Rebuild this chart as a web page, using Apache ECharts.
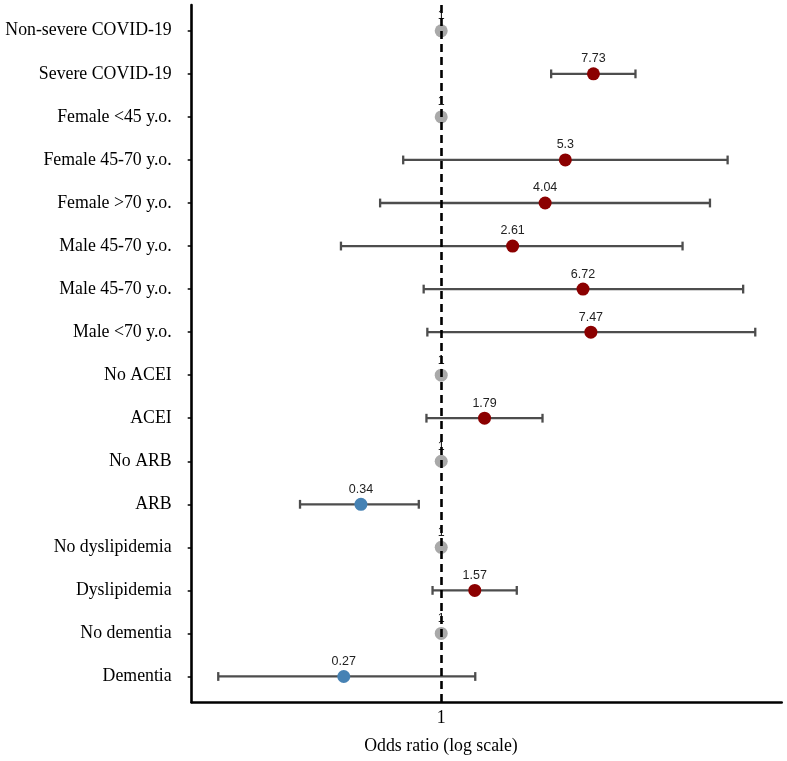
<!DOCTYPE html>
<html>
<head>
<meta charset="utf-8">
<script src="https://cdn.jsdelivr.net/npm/echarts@6/dist/echarts.min.js"></script>
<style>
  html, body { margin: 0; padding: 0; background: #ffffff; }
  #chart { width: 787px; height: 761px; }
</style>
</head>
<body>
<div id="chart"></div>
<script>
// ---- Data ----
const categories = [
  'Non-severe COVID-19', 'Severe COVID-19', 'Female <45 y.o.', 'Female 45-70 y.o.',
  'Female >70 y.o.', 'Male 45-70 y.o.', 'Male 45-70 y.o.', 'Male <70 y.o.',
  'No ACEI', 'ACEI', 'No ARB', 'ARB', 'No dyslipidemia', 'Dyslipidemia',
  'No dementia', 'Dementia'
];
const oddsRatios = [1, 7.73, 1, 5.3, 4.04, 2.61, 6.72, 7.47, 1, 1.79, 1, 0.34, 1, 1.57, 1, 0.27];
const ciLower = [null, 4.38, null, 0.60, 0.44, 0.26, 0.79, 0.83, null, 0.82, null, 0.15, null, 0.89, null, 0.05];
const ciUpper = [null, 13.6, null, 46.9, 37.0, 25.6, 57.8, 68.0, null, 3.90, null, 0.74, null, 2.76, null, 1.58];
const xTickLabels = [1];
const xAxisTitle = 'Odds ratio (log scale)';

// ---- Build ----
const rowIdx = categories.map((_, i) => i);
const colorFor = v => v === 1 ? '#a9a9a9' : (v > 1 ? '#8b0000' : '#4682b4');

const pointData = oddsRatios.map((v, i) => ({
  value: [v, i],
  itemStyle: { color: colorFor(v), opacity: 1 }
}));
const ciData = [];
oddsRatios.forEach((v, i) => {
  if (ciLower[i] != null) ciData.push([ciLower[i], ciUpper[i], i]);
});

const serif = '"Liberation Serif", "Times New Roman", Times, serif';
const sans = '"Liberation Sans", Arial, Helvetica, sans-serif';

const chart = echarts.init(document.getElementById('chart'), null, { renderer: 'canvas' });
chart.setOption({
  animation: false,
  backgroundColor: '#ffffff',
  grid: { left: 191.7, right: 5.3, top: 5, bottom: 58.7, containLabel: false },
  xAxis: {
    type: 'log',
    logBase: 10,
    min: 0.035,
    max: 97,
    axisLine: { show: true, onZero: false, lineStyle: { color: '#000', width: 2.6 } },
    axisTick: { show: false },
    splitLine: { show: false },
    axisLabel: {
      customValues: xTickLabels,
      formatter: v => (Math.abs(v - 1) < 1e-9 ? '1' : ''),
      fontFamily: serif, fontSize: 17.8, color: '#000', margin: 7
    }
  },
  yAxis: {
    type: 'value',
    min: -0.6,
    max: 15.6,
    inverse: true,
    axisLine: { show: true, onZero: false, lineStyle: { color: '#000', width: 2.6 } },
    axisTick: { show: true, customValues: rowIdx, length: 4, lineStyle: { color: '#000', width: 1.5 } },
    splitLine: { show: false },
    axisLabel: {
      customValues: rowIdx,
      formatter: v => categories[Math.round(v)],
      fontFamily: serif, fontSize: 17.8, color: '#000', margin: 20
    }
  },
  graphic: [{
    type: 'text',
    x: 441, y: 746.5,
    style: {
      text: xAxisTitle, font: '17.8px ' + serif, fill: '#000',
      textAlign: 'center', textVerticalAlign: 'middle'
    }
  }],
  series: [
    {
      type: 'custom',
      z: 2,
      data: ciData,
      encode: { x: [0, 1], y: 2 },
      renderItem: function (params, api) {
        const y = api.value(2);
        const a = api.coord([api.value(0), y]);
        const b = api.coord([api.value(1), y]);
        const h = 4.4;
        const style = { stroke: '#4d4d4d', lineWidth: 2.3, fill: null };
        return {
          type: 'group',
          children: [
            { type: 'line', shape: { x1: a[0], y1: a[1], x2: b[0], y2: b[1] }, style },
            { type: 'line', shape: { x1: a[0], y1: a[1] - h, x2: a[0], y2: a[1] + h }, style },
            { type: 'line', shape: { x1: b[0], y1: b[1] - h, x2: b[0], y2: b[1] + h }, style }
          ]
        };
      }
    },
    {
      type: 'scatter',
      z: 3,
      symbol: 'circle',
      symbolSize: 13,
      itemStyle: { opacity: 1 },
      data: pointData,
      label: {
        show: true,
        position: 'top',
        distance: 2,
        formatter: p => String(oddsRatios[p.dataIndex]),
        fontFamily: sans, fontSize: 12.5, color: '#222'
      }
    },
    {
      type: 'line',
      z: 10,
      data: [],
      markLine: {
        silent: true,
        symbol: ['none', 'none'],
        label: { show: false },
        lineStyle: { color: '#000', width: 2.6, type: [8, 5] },
        data: [{ xAxis: 1 }]
      }
    }
  ]
});
</script>
</body>
</html>
